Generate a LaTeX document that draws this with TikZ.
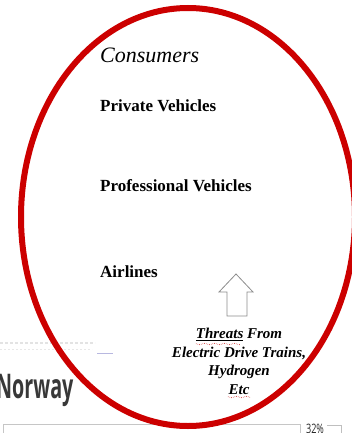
\documentclass[tikz,border=0pt]{standalone}
\usepackage{fontspec}
\setmainfont{Liberation Serif}
\newfontfamily\bgsans{Open Sans}
\usetikzlibrary{shapes.geometric,decorations.pathmorphing}
\definecolor{ringred}{HTML}{CC0000}
\tikzset{
  item/.style={anchor=base west, inner sep=0pt, font=\fontsize{17}{20}\selectfont\bfseries},
  threat/.style={align=center, inner sep=0pt, font=\fontsize{15}{18.5}\selectfont\bfseries\itshape},
  spell/.style={ringred!80, line width=0.6pt, dotted},
}
\begin{document}
\begin{tikzpicture}[x=1pt,y=-1pt]
\useasboundingbox (0,0) rectangle (351,433);
% background remnants
\draw[gray!22, line width=1.2pt, dash pattern=on 3pt off 2pt] (0,343) -- (95,343);
\draw[gray!18, line width=1pt, dash pattern=on 2pt off 2pt] (0,349) -- (92,349);
\coordinate (la) at (97,353);
\coordinate (lb) at (113,353);
\draw[gray!60!blue!40, line width=0.8pt] (la) -- (lb);
\node[anchor=base west, inner sep=0pt, text=black!78, font=\bgsans\fontsize{34}{34}\selectfont\bfseries] (nor) at (-4,398) {\scalebox{0.58}[1]{Norway}};
\draw[gray!45, line width=0.8pt] (3,433.5) |- (300,424) -- (300,433.5);
\node[anchor=base, inner sep=0pt, text=black!85, font=\bgsans\fontsize{13}{13}\selectfont] (pct) at (315,433) {\scalebox{0.7}[1]{32\%}};
\coordinate (pa) at (327,425);
\coordinate (pb) at (341,425);
\draw[gray!50, line width=0.8pt] (pa) -- (pb) -- ++(0,8);
% ring
\node[draw=ringred, line width=6pt, ellipse, minimum width=334pt, minimum height=418pt, inner sep=0pt] (ring) at (188,217) {};
% texts
\node[anchor=base west, inner sep=0pt, font=\fontsize{22}{26}\selectfont\itshape] (cons) at (100,63) {Consumers};
\node[item] (pv) at (100,111) {Private Vehicles};
\node[item] (prv) at (100,191) {Professional Vehicles};
\node[item] (air) at (100,277) {Airlines};
% hollow up arrow
\draw[gray!90, line width=0.8pt, line join=miter] (236,274) -- (253,292) -- (247,292) -- (247,316) -- (227,316) -- (227,292) -- (219,292) -- cycle;
\node[threat, anchor=north] (thr) at (239,328) {\underline{Threats} From\\Electric Drive Trains,\\Hydrogen\\Etc};
\draw[spell, decorate, decoration={zigzag, amplitude=0.6pt, segment length=2pt}] (196,344) -- (240,344);
\draw[spell, decorate, decoration={zigzag, amplitude=0.6pt, segment length=2pt}] (228,397) -- (250,397);
\end{tikzpicture}
\end{document}
